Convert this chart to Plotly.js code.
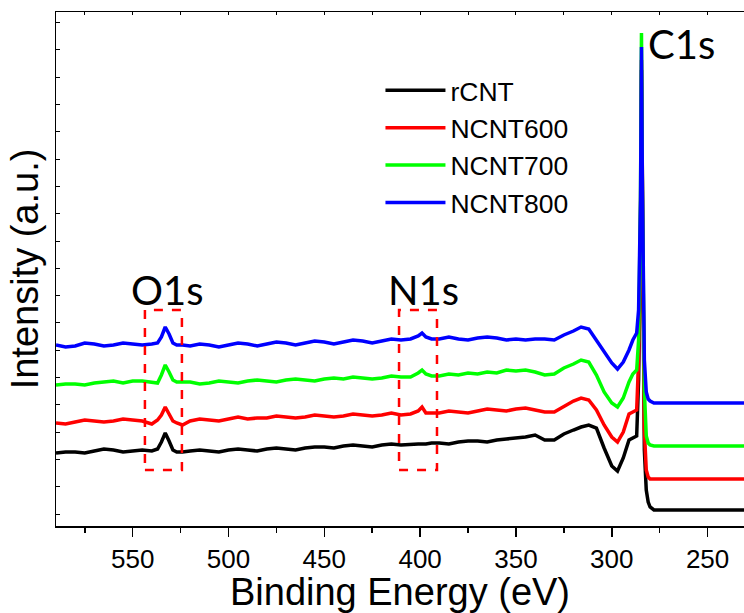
<!DOCTYPE html>
<html>
<head>
<meta charset="utf-8">
<script src="https://cdn.plot.ly/plotly-3.0.1.min.js"></script>
<style>html,body{margin:0;padding:0;background:#fff;}#chart{width:744px;height:613px;}</style>
</head>
<body>
<div id="chart"></div>
<script>
// Binding energy (eV)
const energy = [590,585,580,575,570,565,560,555,550,545,
  540,537,535,533,531,529,527,524,
  520,515,510,505,500,495,490,485,480,475,470,465,460,455,450,445,440,435,430,425,420,415,410,405,
  401,399,397,394,
  390,385,380,375,370,365,360,355,350,345,340,335,330,325,
  320,316,312,308,304,300,297,294,291,289,287,286,285,284.5,284,283,282,281,280,
  278,275,270,260,250,240,231];
// Intensities (a.u., offset stacked)
const rCNT = [73,74,74,73,75,77,76,74,75,76,
  75,77,84,93,85,76,74,74,
  75,76,75,74,76,77,76,75,77,78,77,76,78,79,79,78,80,81,80,79,81,82,81,82,
  82,82,82,83,
  83,82,84,85,85,84,86,87,88,89,91,86,86,92,
  96,99,101,98,78,60,55,68,86,88,90,146,286,456,276,76,36,24,19,
  16,16,16,16,16,16,16];
const NCNT600 = [103,102,104,106,105,104,105,107,106,105,
  102,106,111,119,112,105,103,101,
  105,107,106,105,107,109,107,108,108,110,109,108,109,111,110,109,110,112,111,110,111,113,111,112,
  115,119,113,113,
  113,115,114,113,115,117,116,115,117,118,116,114,114,120,
  125,128,126,116,101,89,84,94,112,114,116,166,296,466,306,96,56,49,47,
  47,47,47,47,47,47,47];
const NCNT700 = [141,142,142,141,143,144,145,143,145,145,
  144,143,151,161,154,146,144,144,
  144,142,143,145,144,143,145,146,145,144,146,147,146,145,147,148,147,149,148,147,148,150,149,149,
  153,156,152,150,
  150,152,151,153,152,154,153,156,155,156,154,151,152,158,
  162,166,164,151,134,123,119,128,144,152,156,186,326,493,336,136,90,83,81,
  80,80,80,80,80,80,80];
const NCNT800 = [181,179,180,183,182,180,181,183,182,181,
  182,183,189,199,192,183,181,181,
  180,182,181,179,181,183,182,180,182,184,183,181,183,185,184,182,184,186,185,183,185,187,186,187,
  190,193,189,187,
  187,189,187,186,188,189,188,186,187,186,187,187,186,191,
  195,199,197,186,174,163,157,164,176,186,193,216,326,479,336,166,134,127,125,
  123,123,123,123,123,123,123];
const seriesNames = ["rCNT","NCNT600","NCNT700","NCNT800"];
const seriesData = [rCNT, NCNT600, NCNT700, NCNT800];
const seriesColors = ["#000000","#ff0000","#00ff00","#0000ff"];
const xTickVals = [550,500,450,400,350,300,250];
// Peak labels and highlight boxes
const peakLabels = ["O1s","N1s","C1s"];
const peakLabelX = [532,398.5,263.4];
const peakLabelY = [236,236,482];
const boxX0 = [543.6, 411];
const boxX1 = [524.3, 391.2];
const boxY0 = [56, 56];
const boxY1 = [216, 216];

const traces = seriesData.map((d,i)=>({
  x: energy, y: d, type:'scatter', mode:'lines', name: seriesNames[i],
  line:{color: seriesColors[i], width:3.5}, hoverinfo:'skip'
}));
traces.push({x:[], y:[], xaxis:'x2', yaxis:'y', type:'scatter', mode:'lines', showlegend:false, hoverinfo:'skip'});

const shapes = boxX0.map((x0,i)=>({
  type:'rect', xref:'x', yref:'y', x0:x0, x1:boxX1[i], y0:boxY0[i], y1:boxY1[i],
  line:{color:'#ff0000', width:2.5, dash:'dash'}, fillcolor:'rgba(0,0,0,0)'
}));
const annotations = peakLabels.map((t,i)=>({
  text:t, x:peakLabelX[i], y:peakLabelY[i], xref:'x', yref:'y', showarrow:false,
  xanchor:'center', yanchor:'middle', font:{family:'Lato, Carlito, sans-serif', size:40, color:'#000'}
}));

const layout = {
  width:744, height:613,
  margin:{l:56, r:0, t:12, b:87},
  paper_bgcolor:'#fff', plot_bgcolor:'#fff',
  showlegend:true,
  legend:{x:0.4716, y:0.894, xanchor:'left', yanchor:'top', bgcolor:'rgba(0,0,0,0)',
    font:{family:'Liberation Sans, Arial, sans-serif', size:26.5, color:'#000'},
    itemwidth:60, tracegroupgap:0},
  xaxis:{range:[590,231], autorange:false, tickvals:xTickVals, ticks:'outside', ticklen:9, tickwidth:1.5,
    tickcolor:'#000', showline:true, linecolor:'#000', linewidth:1.5, showgrid:false, zeroline:false,
    minor:{dtick:25, tick0:250, ticks:'outside', ticklen:5, tickwidth:1.5, tickcolor:'#000', showgrid:false},
    tickfont:{family:'Liberation Sans, Arial, sans-serif', size:26, color:'#000'},
    title:{text:'Binding Energy (eV)', standoff:6, font:{family:'Liberation Sans, Arial, sans-serif', size:38, color:'#000'}}},
  xaxis2:{overlaying:'x', side:'top', anchor:'y', range:[590,231], autorange:false, dtick:25, tick0:250,
    ticks:'inside', ticklen:3, tickwidth:1, tickcolor:'#000', showticklabels:false, showline:true,
    linecolor:'#000', linewidth:1.5, showgrid:false, zeroline:false},
  yaxis:{range:[0,514], autorange:false, tick0:12, dtick:27.3, ticks:'inside', ticklen:4, tickwidth:1,
    tickcolor:'#000', showticklabels:false, showline:true, linecolor:'#000', linewidth:1.5,
    showgrid:false, zeroline:false,
    title:{text:'Intensity (a.u.)', standoff:4, font:{family:'Liberation Sans, Arial, sans-serif', size:38, color:'#000'}}},
  shapes: shapes,
  annotations: annotations
};
Plotly.newPlot('chart', traces, layout, {displayModeBar:false, staticPlot:true});
</script>
</body>
</html>
